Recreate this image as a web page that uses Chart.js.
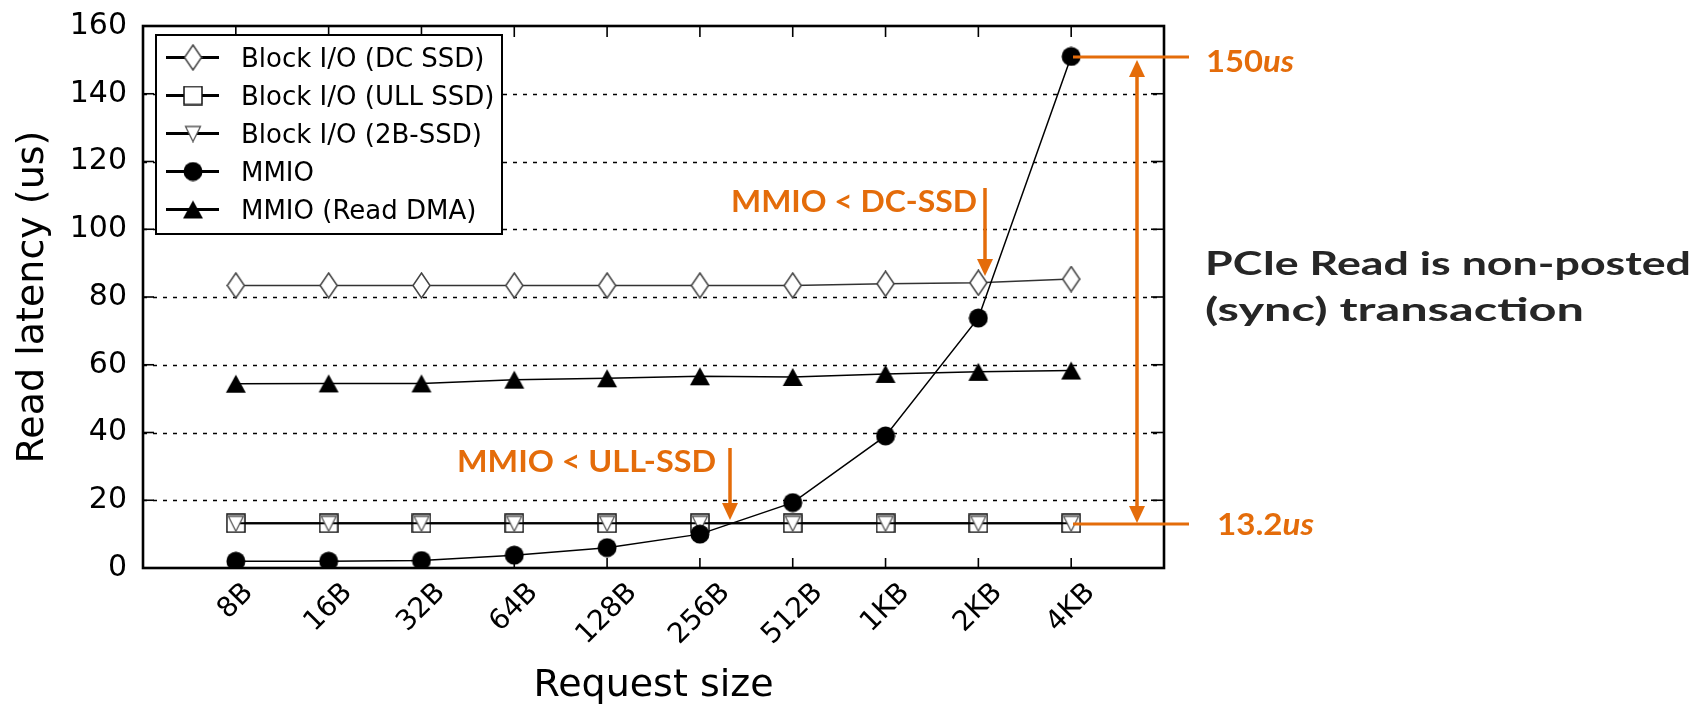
<!DOCTYPE html>
<html>
<head>
<meta charset="utf-8">
<script src="https://cdn.jsdelivr.net/npm/chart.js@4.4.0/dist/chart.umd.min.js"></script>
<style>
  html, body { margin: 0; padding: 0; background: #fff; }
  #wrap { width: 1694px; height: 706px; }
</style>
</head>
<body>
<div id="wrap"><canvas id="myChart"></canvas></div>
<script>
// request sizes on the x axis
const sizes = ['8B', '16B', '32B', '64B', '128B', '256B', '512B', '1KB', '2KB', '4KB'];

// read latency (us)
const dcSsd = [83.4, 83.4, 83.4, 83.4, 83.4, 83.4, 83.4, 83.9, 84.2, 85.3];
const ullSsd = [13.2, 13.2, 13.2, 13.2, 13.2, 13.2, 13.2, 13.2, 13.2, 13.2];
const b2Ssd = [13.2, 13.2, 13.2, 13.2, 13.2, 13.2, 13.2, 13.2, 13.2, 13.2];
const mmio = [2.0, 2.0, 2.2, 3.8, 6.0, 10.0, 19.3, 39.0, 73.8, 151.0];
const mmioDma = [54.4, 54.5, 54.5, 55.6, 56.0, 56.6, 56.4, 57.3, 57.9, 58.3];

const orange = '#E46C0A';

function marker(w, h, draw) {
  const c = document.createElement('canvas');
  c.width = w;
  c.height = h;
  draw(c.getContext('2d'), w, h);
  return c;
}

const diamondImg = marker(19, 27, (g, w, h) => {
  g.beginPath();
  g.moveTo(w / 2, 1); g.lineTo(w - 1, h / 2); g.lineTo(w / 2, h - 1); g.lineTo(1, h / 2);
  g.closePath();
  g.fillStyle = '#fff'; g.fill();
  g.strokeStyle = '#444'; g.lineWidth = 1.5; g.stroke();
});
const squareImg = marker(20, 20, (g, w, h) => {
  g.fillStyle = '#fff'; g.fillRect(1, 1, w - 2, h - 2);
  g.strokeStyle = '#111'; g.lineWidth = 1.5; g.strokeRect(1, 1, w - 2, h - 2);
});
const triDownImg = marker(18, 18, (g, w, h) => {
  g.beginPath();
  g.moveTo(1.5, 2); g.lineTo(w - 1.5, 2); g.lineTo(w / 2, h - 1);
  g.closePath();
  g.fillStyle = '#fff'; g.fill();
  g.strokeStyle = '#555'; g.lineWidth = 1.3; g.stroke();
});
const circleImg = marker(20, 20, (g, w, h) => {
  g.beginPath();
  g.arc(w / 2, h / 2, 9.5, 0, Math.PI * 2);
  g.fillStyle = '#000'; g.fill();
});
const triUpImg = marker(22, 20, (g, w, h) => {
  g.beginPath();
  g.moveTo(w / 2, 1); g.lineTo(w - 1, h - 1); g.lineTo(1, h - 1);
  g.closePath();
  g.fillStyle = '#000'; g.fill();
});

function pts(arr) {
  return arr.map((v, i) => ({ x: i, y: v }));
}

// matplotlib-like frame, inward ticks and dashed grid
const frame = {
  id: 'frame',
  beforeDatasetsDraw(chart) {
    const { ctx, chartArea: a, scales: { y } } = chart;
    ctx.save();
    ctx.strokeStyle = '#000';
    ctx.lineWidth = 1.3;
    ctx.setLineDash([4, 6]);
    y.ticks.forEach(t => {
      if (t.value <= 0 || t.value >= 160) return;
      const py = Math.round(y.getPixelForValue(t.value)) + 0.5;
      ctx.beginPath(); ctx.moveTo(a.left, py); ctx.lineTo(a.right, py); ctx.stroke();
    });
    ctx.restore();
  },
  afterDatasetsDraw(chart) {
    const { ctx, chartArea: a, scales: { x, y } } = chart;
    ctx.save();
    ctx.strokeStyle = '#000';
    ctx.lineWidth = 1.6;
    y.ticks.forEach(t => {
      const py = y.getPixelForValue(t.value);
      ctx.beginPath(); ctx.moveTo(a.left, py); ctx.lineTo(a.left + 11, py); ctx.stroke();
      ctx.beginPath(); ctx.moveTo(a.right, py); ctx.lineTo(a.right - 13, py); ctx.stroke();
    });
    sizes.forEach((s, i) => {
      const px = x.getPixelForValue(i);
      ctx.beginPath(); ctx.moveTo(px, a.top); ctx.lineTo(px, a.top + 11); ctx.stroke();
      ctx.beginPath(); ctx.moveTo(px, a.bottom); ctx.lineTo(px, a.bottom - 10); ctx.stroke();
    });
    ctx.lineWidth = 2.6;
    ctx.strokeRect(a.left, a.top, a.right - a.left, a.bottom - a.top);

    // rotated x tick labels, centred on the tick like matplotlib
    ctx.fillStyle = '#000';
    ctx.font = '28px "DejaVu Sans"';
    ctx.textAlign = 'center';
    ctx.textBaseline = 'middle';
    const c45 = Math.SQRT1_2;
    sizes.forEach((s, i) => {
      const px = x.getPixelForValue(i);
      const w = ctx.measureText(s).width;
      const bh = (w + 21) * c45;
      ctx.save();
      ctx.translate(px, a.bottom + 13 + bh / 2);
      ctx.rotate(-Math.PI / 4);
      ctx.fillText(s, 0, 0);
      ctx.restore();
    });

    ctx.font = '38px "DejaVu Sans"';
    ctx.textBaseline = 'alphabetic';
    ctx.fillText('Request size', (a.left + a.right) / 2, 696);
    ctx.restore();
  }
};

// legend box inside the axes
const innerLegend = {
  id: 'innerLegend',
  afterDatasetsDraw(chart) {
    const { ctx } = chart;
    const box = { l: 156, t: 35, r: 502, b: 234 };
    ctx.save();
    ctx.fillStyle = '#fff';
    ctx.fillRect(box.l, box.t, box.r - box.l, box.b - box.t);
    ctx.strokeStyle = '#000';
    ctx.lineWidth = 2;
    ctx.strokeRect(box.l, box.t, box.r - box.l, box.b - box.t);
    ctx.font = '26px "DejaVu Sans"';
    ctx.textAlign = 'left';
    ctx.textBaseline = 'alphabetic';
    chart.data.datasets.forEach((ds, i) => {
      const cy = 57.5 + i * 38;
      ctx.strokeStyle = '#000';
      ctx.lineWidth = 2.8;
      ctx.beginPath(); ctx.moveTo(166, cy); ctx.lineTo(219, cy); ctx.stroke();
      const img = ds.pointStyle;
      ctx.drawImage(img, 193 - img.width / 2, cy - img.height / 2);
      ctx.fillStyle = '#000';
      ctx.fillText(ds.label, 241, cy + 9.5);
    });
    ctx.restore();
  }
};

function fitText(ctx, parts, x, base, width, size, color) {
  ctx.save();
  ctx.fillStyle = color;
  ctx.textAlign = 'left';
  ctx.textBaseline = 'alphabetic';
  let total = 0;
  parts.forEach(p => {
    p.font = (p.italic ? 'italic ' : '') + 'bold ' + size + 'px Lato';
    ctx.font = p.font;
    p.w = ctx.measureText(p.t).width;
    total += p.w;
  });
  ctx.translate(x, base);
  ctx.scale(width / total, 1);
  let cx = 0;
  parts.forEach(p => {
    ctx.font = p.font;
    ctx.fillText(p.t, cx, 0);
    cx += p.w;
  });
  ctx.restore();
}

function arrowHead(ctx, x, tipY, dir) {
  ctx.beginPath();
  ctx.moveTo(x, tipY);
  ctx.lineTo(x - 8, tipY - dir * 17);
  ctx.lineTo(x + 8, tipY - dir * 17);
  ctx.closePath();
  ctx.fill();
}

const notes = {
  id: 'notes',
  afterDraw(chart) {
    const { ctx } = chart;
    ctx.save();
    ctx.strokeStyle = orange;
    ctx.fillStyle = orange;
    ctx.lineWidth = 3;

    // 150us / 13.2us leader lines
    ctx.beginPath(); ctx.moveTo(1073, 57); ctx.lineTo(1189, 57); ctx.stroke();
    ctx.beginPath(); ctx.moveTo(1073, 524); ctx.lineTo(1189, 524); ctx.stroke();

    // double arrow
    ctx.lineWidth = 3.5;
    ctx.beginPath(); ctx.moveTo(1137, 72); ctx.lineTo(1137, 511); ctx.stroke();
    arrowHead(ctx, 1137, 60, -1);
    arrowHead(ctx, 1137, 523, 1);

    // MMIO < DC-SSD arrow
    ctx.beginPath(); ctx.moveTo(985, 188); ctx.lineTo(985, 262); ctx.stroke();
    arrowHead(ctx, 985, 276, 1);
    // MMIO < ULL-SSD arrow
    ctx.beginPath(); ctx.moveTo(730, 448); ctx.lineTo(730, 506); ctx.stroke();
    arrowHead(ctx, 730, 520, 1);
    ctx.restore();

    fitText(ctx, [{ t: '150' }, { t: 'us', italic: true }], 1206, 72, 88, 31, orange);
    fitText(ctx, [{ t: '13.2' }, { t: 'us', italic: true }], 1217, 535, 97, 31, orange);
    fitText(ctx, [{ t: 'MMIO < DC-SSD' }], 731, 212, 246, 30, orange);
    fitText(ctx, [{ t: 'MMIO < ULL-SSD' }], 457, 472, 259, 31, orange);
    fitText(ctx, [{ t: 'PCIe Read is non-posted' }], 1205, 275, 486, 33, '#262626');
    fitText(ctx, [{ t: '(sync) transaction' }], 1205, 321, 379, 33, '#262626');
  }
};

const myChart = document.getElementById('myChart').getContext('2d');

const lineChart = new Chart(myChart, {
  type: 'line',
  data: {
    datasets: [
      {
        label: 'Block I/O (DC SSD)',
        data: pts(dcSsd),
        borderColor: '#333',
        borderWidth: 1.6,
        pointStyle: diamondImg,
        order: 5,
      },
      {
        label: 'Block I/O (ULL SSD)',
        data: pts(ullSsd),
        borderColor: '#000',
        borderWidth: 2,
        pointStyle: squareImg,
        order: 4,
      },
      {
        label: 'Block I/O (2B-SSD)',
        data: pts(b2Ssd),
        borderColor: '#000',
        borderWidth: 2,
        pointStyle: triDownImg,
        order: 3,
      },
      {
        label: 'MMIO',
        data: pts(mmio),
        borderColor: '#000',
        borderWidth: 1.5,
        pointStyle: circleImg,
        order: 2,
      },
      {
        label: 'MMIO (Read DMA)',
        data: pts(mmioDma),
        borderColor: '#000',
        borderWidth: 1.5,
        pointStyle: triUpImg,
        order: 1,
      },
    ],
  },
  plugins: [frame, innerLegend, notes],
  options: {
    responsive: true,
    maintainAspectRatio: false,
    animation: false,
    events: [],
    elements: {
      line: { tension: 0, fill: false },
      point: { radius: 10, hoverRadius: 10 },
    },
    layout: {
      padding: { left: 0, top: 22, right: 530, bottom: 138 },
    },
    scales: {
      x: {
        type: 'linear',
        display: false,
        min: -1,
        max: 10,
      },
      y: {
        min: 0,
        max: 160,
        afterFit: (scale) => { scale.width = 143; },
        ticks: {
          stepSize: 20,
          padding: 8,
          color: '#000',
          font: { family: 'DejaVu Sans', size: 30 },
        },
        grid: { display: false },
        border: { display: false },
        title: {
          display: true,
          text: 'Read latency (us)',
          color: '#000',
          font: { family: 'DejaVu Sans', size: 38 },
          padding: { top: 10, bottom: 0 },
        },
      },
    },
    plugins: {
      legend: { display: false },
      tooltip: { enabled: false },
      title: { display: false },
    },
  },
});
</script>
</body>
</html>
